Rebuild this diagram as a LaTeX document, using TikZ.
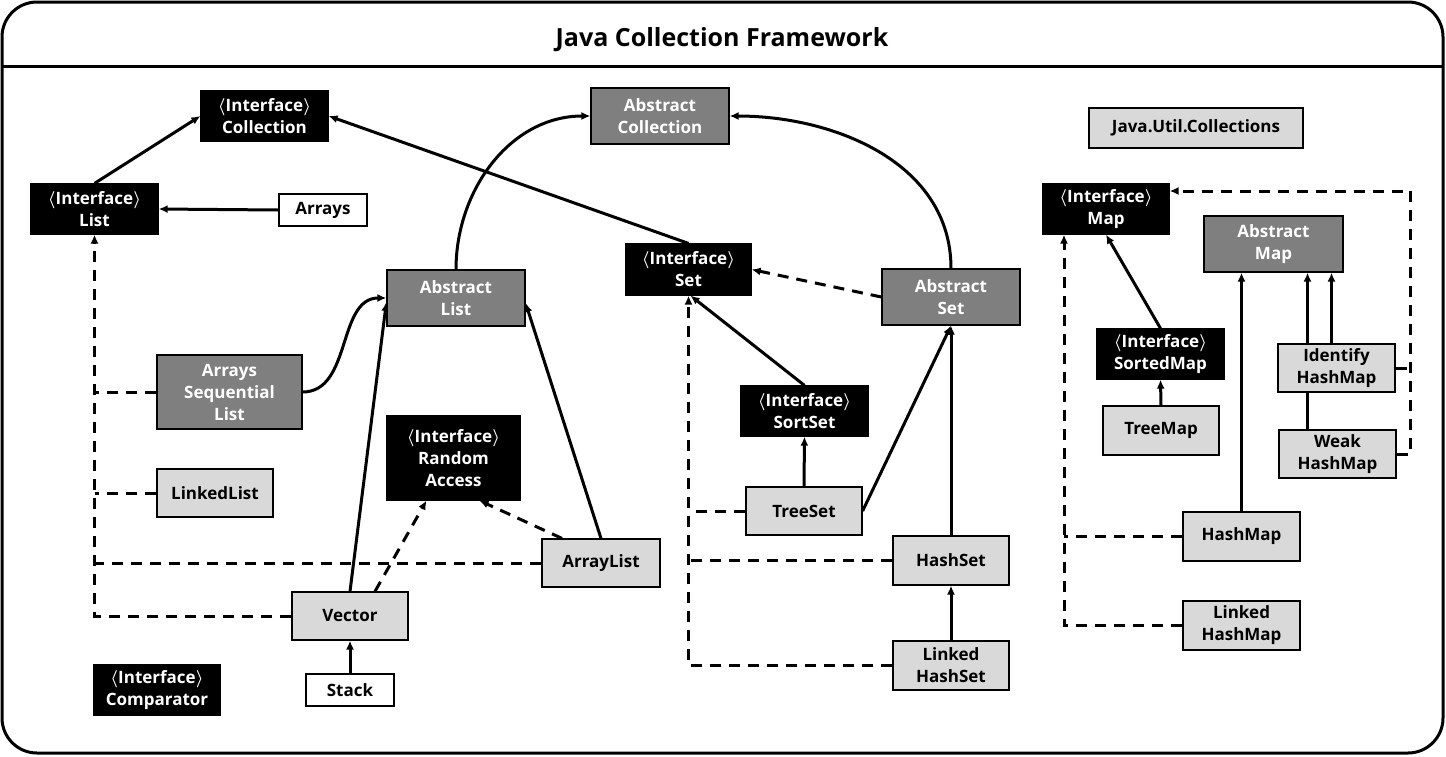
\documentclass[tikz,border=0pt]{standalone}
\usepackage{fontspec}
\setmainfont{Open Sans}[BoldFont={Open Sans Bold}]
\usepackage{xcolor}
\usetikzlibrary{arrows.meta,backgrounds}

\definecolor{absgray}{HTML}{7F7F7F}
\definecolor{clsgray}{HTML}{D9D9D9}
\newcommand{\iface}[1]{{\boldmath$\langle$}Interface{\boldmath$\rangle$}\\#1}

\begin{document}
\begin{tikzpicture}[
  x=1pt, y=-1pt,
  >={Latex[length=9pt,width=8pt]},
  font=\fontsize{17}{22}\selectfont\bfseries,
  box/.style={draw=black, line width=1.2pt, inner sep=0pt, align=center},
  ifbox/.style={box, fill=black, text=white},
  absbox/.style={box, fill=absgray, text=white},
  clsbox/.style={box, fill=clsgray, text=black},
  utlbox/.style={box, fill=white, text=black},
  inherit/.style={->, line width=3pt},
  implement/.style={->, line width=3pt, dash pattern=on 11pt off 8pt},
  branch/.style={line width=3pt, dash pattern=on 11pt off 8pt},
  frame/.style={line width=3pt}
]
\useasboundingbox (0,0) rectangle (1446,756);

% Rahmen und Titel
\draw[frame, rounded corners=35pt] (2,2) rectangle (1443,753);
\draw[frame] (2,66) -- (1443,66);
\node[font=\fontsize{25}{30}\selectfont\bfseries] (title) at (722,40) {Java Collection Framework};

% Collection / List
\node[ifbox, minimum width=127pt, minimum height=50pt] (coll) at (264.5,116) {\iface{Collection}};
\node[ifbox, minimum width=127pt, minimum height=50pt] (list) at (94.5,209) {\iface{List}};
\node[utlbox, minimum width=88pt, minimum height=32pt] (arrays) at (323,210) {Arrays};
\node[absbox, minimum width=138pt, minimum height=56pt] (acoll) at (660,116) {Abstract\\Collection};
\node[absbox, minimum width=138pt, minimum height=56pt] (alist) at (456,298) {Abstract\\List};
\node[absbox, minimum width=145pt, minimum height=74pt] (asl) at (229.5,392) {Arrays\\Sequential\\List};
\node[clsbox, minimum width=116pt, minimum height=48pt] (llist) at (215,493) {LinkedList};
\node[ifbox, minimum width=133pt, minimum height=84pt] (ra) at (453.5,458) {\iface{Random\\Access}};
\node[clsbox, minimum width=118pt, minimum height=48pt] (alst) at (601,563) {ArrayList};
\node[clsbox, minimum width=116pt, minimum height=48pt] (vector) at (350,616) {Vector};
\node[utlbox, minimum width=88pt, minimum height=32pt] (stack) at (350,690) {Stack};
\node[ifbox, minimum width=126pt, minimum height=50pt] (comp) at (157,690) {\iface{Comparator}};

% Set
\node[ifbox, minimum width=125pt, minimum height=51pt] (set) at (688.5,269.5) {\iface{Set}};
\node[absbox, minimum width=138pt, minimum height=56pt] (aset) at (951,297) {Abstract\\Set};
\node[ifbox, minimum width=127pt, minimum height=50pt] (sset) at (804.5,411) {\iface{SortSet}};
\node[clsbox, minimum width=116pt, minimum height=48pt] (tset) at (804,511) {TreeSet};
\node[clsbox, minimum width=116pt, minimum height=49pt] (hset) at (951,560.5) {HashSet};
\node[clsbox, minimum width=116pt, minimum height=49pt] (lhset) at (951,665.5) {Linked\\HashSet};

% Map
\node[clsbox, minimum width=214pt, minimum height=40pt] (juc) at (1196,128) {Java.Util.Collections};
\node[ifbox, minimum width=126pt, minimum height=50pt] (map) at (1106,209) {\iface{Map}};
\node[absbox, minimum width=139pt, minimum height=56pt] (amap) at (1273.5,244) {Abstract\\Map};
\node[ifbox, minimum width=127pt, minimum height=50pt] (smap) at (1160.5,354) {\iface{SortedMap}};
\node[clsbox, minimum width=117pt, minimum height=48pt] (imap) at (1336.5,368) {Identify\\HashMap};
\node[clsbox, minimum width=116pt, minimum height=49pt] (tmap) at (1161,430.5) {TreeMap};
\node[clsbox, minimum width=117pt, minimum height=48pt] (wmap) at (1337.5,454) {Weak\\HashMap};
\node[clsbox, minimum width=117pt, minimum height=49pt] (hmap) at (1241.5,536.5) {HashMap};
\node[clsbox, minimum width=117pt, minimum height=49pt] (lhmap) at (1241.5,625.5) {Linked\\HashMap};

\begin{scope}[on background layer]
% Verbindungen Collection / List
\draw[inherit] (list.north) -- (coll.west);
\draw[inherit] (arrays.west) -- (list.east);
\draw[inherit] (set.north) -- (coll.east);
\draw[inherit] (alist.north) to[out=90, in=180] (acoll.west);
\draw[inherit] (aset.north) to[out=90, in=0] (acoll.east);
\draw[inherit] (asl.east) to[out=0, in=180] (alist.west);
\draw[inherit] (vector.north) -- ([yshift=-4pt]alist.west);
\draw[inherit] (alst.north) -- ([yshift=-5pt]alist.east);
\draw[implement] ([xshift=-39pt]alst.north) -- ([xshift=26pt]ra.south);
\draw[implement] ([xshift=25pt]vector.north) -- ([xshift=-27pt]ra.south);
\draw[inherit] (stack.north) -- (vector.south);
\draw[implement] (vector.west) -| (list.south);
\draw[branch] (asl.west) -- (asl.west -| list.south);
\draw[branch] (llist.west) -- (llist.west -| list.south);
\draw[branch] (alst.west) -- (alst.west -| list.south);

% Verbindungen Set
\draw[implement] (aset.west) -- (set.east);
\draw[implement] (lhset.west) -| (set.south);
\draw[branch] (tset.west) -- (tset.west -| set.south);
\draw[branch] (hset.west) -- (hset.west -| set.south);
\draw[inherit] (tset.north) -- (sset.south);
\draw[inherit] (sset.north) -- ([xshift=2pt]set.south);
\draw[inherit] (tset.east) -- (aset.south);
\draw[inherit] (hset.north) -- (aset.south);
\draw[inherit] (lhset.north) -- (hset.south);

% Verbindungen Map
\coordinate (mapin) at ([xshift=-42pt]map.south);
\coordinate (rt) at ([xshift=14pt]wmap.east);
\draw[inherit] (smap.north) -- (map.south);
\draw[inherit] (tmap.north) -- (smap.south);
\draw[inherit] (hmap.north) -- (hmap.north |- amap.south);
\draw[inherit] ([xshift=-5pt]imap.north) -- ([xshift=-5pt]imap.north |- amap.south);
\draw[inherit] ([xshift=-30pt]wmap.north) -- ([xshift=-30pt]wmap.north |- amap.south);
\draw[implement] (lhmap.west) -| (mapin);
\draw[branch] (hmap.west) -- (hmap.west -| mapin);
\draw[implement] (wmap.east) -- (rt) |- ([yshift=18pt]map.east);
\draw[branch] (imap.east) -- (imap.east -| rt);
\end{scope}

\end{tikzpicture}
\end{document}
